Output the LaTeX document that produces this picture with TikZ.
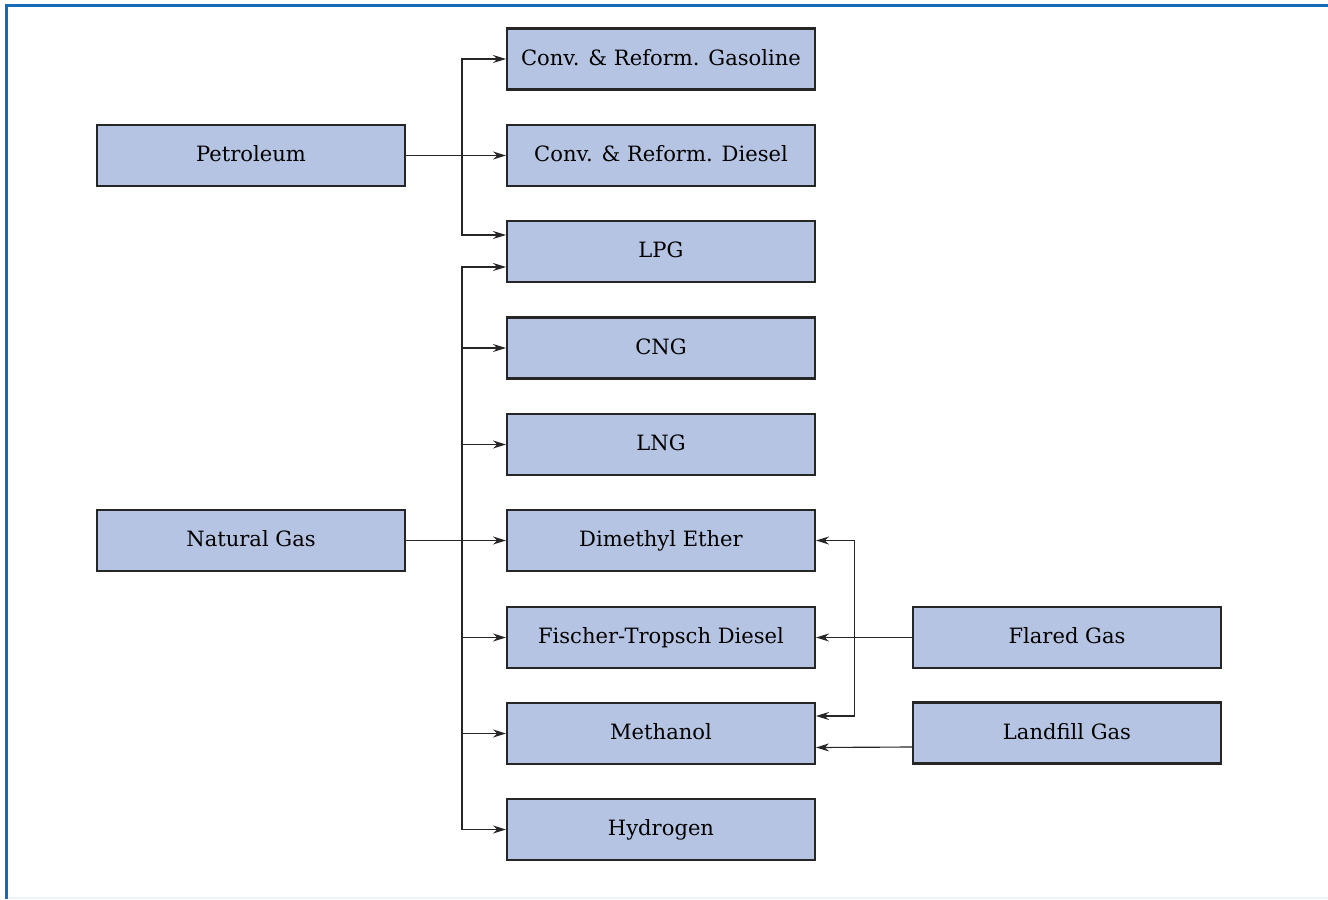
\documentclass[tikz,border=0pt]{standalone}
\usepackage{fontspec}
\setmainfont{DejaVu Serif}
\usetikzlibrary{arrows.meta,calc}
\definecolor{boxblue}{RGB}{182,196,227}
\definecolor{frameblue}{RGB}{20,108,185}

\begin{document}
\begin{tikzpicture}[x=0.02cm,y=-0.02cm,
  fuel/.style={draw=black!85,line width=1.2pt,fill=boxblue,minimum width=6.16cm,
    minimum height=1.22cm,inner sep=0pt,text height=0.73em,text depth=0pt,
    font=\fontsize{12}{14}\selectfont},
  feed/.style={draw=black!85,line width=0.65pt,-{Stealth[length=0.26cm,width=0.16cm]}}]
 \useasboundingbox (0,0) rectangle (1328,899);
 \draw[frameblue,line width=0.06cm] (6.5,899) -- (6.5,5.8) -- (1328,5.8);
 \draw[frameblue!8,line width=0.04cm] (8,897.5) -- (1328,897.5);

 \foreach \n/\y/\t in
  {
    gasoline/59/Conv. \& Reform. Gasoline, diesel/155.5/Conv. \& Reform. Diesel,
    lpg/251.5/LPG, cng/348/CNG, lng/444.5/LNG, dme/540.5/Dimethyl Ether,
    ft/637.5/Fischer-Tropsch Diesel, methanol/733.5/Methanol, hydrogen/829.5/Hydrogen
  }
  \node[fuel] (\n) at (661,\y) {\t};
 \foreach \n/\x/\y/\t in
  {
    petroleum/251/155.5/Petroleum, natgas/251/540.5/Natural Gas,
    flared/1067/637.5/Flared Gas, landfill/1067/733/Landfill Gas
  }
  \node[fuel] (\n) at (\x,\y) {\t};

 \coordinate (ptrunk) at (462,155.5);
 \coordinate (gtrunk) at (462,540.5);
 \coordinate (ftrunk) at (854.5,637.5);

 \draw[feed] (petroleum) -- (diesel);
 \draw[feed] (ptrunk) |- (gasoline.west);
 \draw[feed] (ptrunk) |- ($(lpg.west)+(0,-16.5)$);

 \draw[feed] (natgas) -- (dme);
 \draw[feed] (gtrunk) |- ($(lpg.west)+(0,15.5)$);
 \foreach \n in {cng,lng,ft,methanol,hydrogen}
  \draw[feed] (gtrunk) |- (\n.west);

 \draw[feed] (flared) -- (ft);
 \draw[feed] (ftrunk) |- (dme.east);
 \draw[feed] (ftrunk) |- ($(methanol.east)+(0,-17.5)$);
 \draw[feed] ($(landfill.west)+(0,14)$) -- ($(methanol.east)+(0,14)$);
\end{tikzpicture}
\end{document}
